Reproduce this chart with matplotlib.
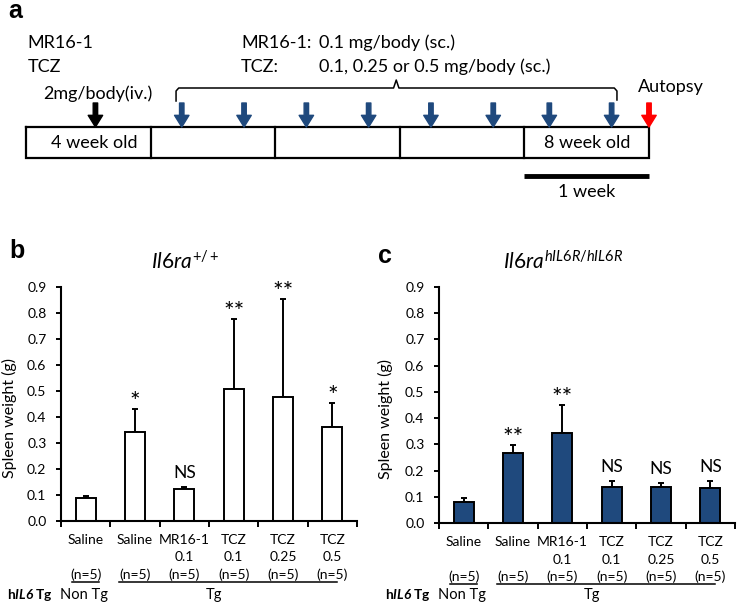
import numpy as np
import matplotlib
matplotlib.use("Agg")
import matplotlib.pyplot as plt

plt.rcParams['font.family'] = ['Lato', 'DejaVu Sans']
plt.rcParams['mathtext.fontset'] = 'custom'
plt.rcParams['mathtext.rm'] = 'Lato'
plt.rcParams['mathtext.it'] = 'Lato:italic'
plt.rcParams['mathtext.bf'] = 'Lato:bold'
plt.rcParams['mathtext.bfit'] = 'Lato:italic:bold'

# groups on the x axis (same for both panels)
groups = ['Saline', 'Saline', 'MR16-1', 'TCZ', 'TCZ', 'TCZ']
doses = ['', '', '0.1', '0.1', '0.25', '0.5']
n_labels = ['(n=5)', '(n=5)', '(n=5)', '(n=5)', '(n=5)', '(n=5)']

# spleen weight (g), mean and SD -- panel b (Il6ra+/+)
wt_b = [0.088, 0.342, 0.124, 0.507, 0.478, 0.362]
sd_b = [0.009, 0.088, 0.008, 0.270, 0.377, 0.092]
sig_b = ['', '*', 'NS', '**', '**', '*']

# panel c (Il6ra hIL6R/hIL6R)
wt_c = [0.081, 0.267, 0.344, 0.137, 0.137, 0.134]
sd_c = [0.014, 0.031, 0.106, 0.024, 0.016, 0.026]
sig_c = ['', '**', '**', 'NS', 'NS', 'NS']

# dosing schedule (days from 4 weeks old)
iv_day = 3.9
sc_days = [8.75, 12.25, 15.75, 19.25, 22.75, 26.25, 29.4, 32.9]
autopsy_day = 35
week_edges = [0, 7, 14, 21, 28, 35]

blue = '#1F497D'
W, H = 738, 607

fig = plt.figure(figsize=(W / 100, H / 100), dpi=100)

# ---------------- panel a: schedule ----------------
axa = fig.add_axes([26 / W, 1 - 200 / H, 623 / W, 200 / H])
axa.set_xlim(0, 35)
axa.set_ylim(200, 0)
axa.axis('off')

box_top, box_bot = 127, 158
axa.plot([week_edges[0], week_edges[-1], week_edges[-1], week_edges[0], week_edges[0]],
         [box_top, box_top, box_bot, box_bot, box_top], color='black', lw=1.6,
         clip_on=False, solid_joinstyle='miter')
for d in week_edges[1:-1]:
    axa.plot([d, d], [box_top, box_bot], color='black', lw=1.6, clip_on=False)
axa.text(3.85, 142.5, '4 week old', ha='center', va='center', fontsize=13)
axa.text(31.5, 142.5, '8 week old', ha='center', va='center', fontsize=13)

arrow_style = 'simple,head_length=0.42,head_width=0.52,tail_width=0.16'


def dose_arrow(day, color):
    axa.annotate('', xy=(day, box_top), xytext=(day, 103),
                 arrowprops=dict(arrowstyle=arrow_style, color=color,
                                 mutation_scale=20, shrinkA=0, shrinkB=0),
                 annotation_clip=False)


dose_arrow(iv_day, 'black')
for d in sc_days:
    dose_arrow(d, blue)
dose_arrow(autopsy_day, '#FF0000')

# brace over the sc doses
b0, b1 = 8.43, 33.2
bm = 20.8
axa.plot([b0, b0, b0 + 0.15, bm - 0.15, bm, bm + 0.15, b1 - 0.15, b1, b1],
         [101, 91, 88, 88, 80, 88, 88, 91, 100], color='black', lw=1.1, clip_on=False)

# 1 week scale bar
axa.plot([28, 35], [176, 176], color='black', lw=3.5, solid_capstyle='butt', clip_on=False)
axa.text(31.5, 192, '1 week', ha='center', va='center', fontsize=13)

axa.text(0.1, 43, 'MR16-1', ha='left', va='center', fontsize=13)
axa.text(0.1, 67, 'TCZ', ha='left', va='center', fontsize=13)
axa.text(0.95, 94, '2mg/body(iv.)', ha='left', va='center', fontsize=13)
axa.text(12.08, 43, 'MR16-1:', ha='left', va='center', fontsize=13)
axa.text(16.46, 43, '0.1 mg/body (sc.)', ha='left', va='center', fontsize=13)
axa.text(12.08, 67, 'TCZ:', ha='left', va='center', fontsize=13)
axa.text(16.46, 67, '0.1, 0.25 or 0.5 mg/body (sc.)', ha='left', va='center', fontsize=13)
axa.text(34.4, 87, 'Autopsy', ha='left', va='center', fontsize=13)

fig.text(15 / W, 1 - 11 / H, 'a', ha='center', va='center', fontsize=18,
         fontweight='bold', family='Liberation Sans')
fig.text(17 / W, 1 - 251 / H, 'b', ha='center', va='center', fontsize=18,
         fontweight='bold', family='Liberation Sans')
fig.text(385 / W, 1 - 256 / H, 'c', ha='center', va='center', fontsize=18,
         fontweight='bold', family='Liberation Sans')


# ---------------- panels b, c: bar charts ----------------
def bar_panel(rect, wt, sd, sig, face, title, label_x, row_y):
    ax = fig.add_axes(rect)
    x = np.arange(len(wt)) + 0.5
    ax.bar(x, wt, width=0.41, color=face, edgecolor='black', linewidth=1.4, zorder=2)
    ax.errorbar(x, wt, yerr=[np.zeros(len(sd)), sd], fmt='none', ecolor='black',
                elinewidth=1.4, capsize=2.5, capthick=1.4, zorder=1)
    ax.set_xlim(0, len(wt))
    ax.set_ylim(0, 0.9)
    ax.set_yticks(np.arange(0, 0.91, 0.1))
    ax.set_yticklabels(['%.1f' % v for v in np.arange(0, 0.91, 0.1)])
    ax.set_xticks(np.arange(0, len(wt) + 1))
    ax.set_xticklabels([])
    ax.tick_params(axis='y', direction='out', length=3.5, width=1.4, labelsize=10, pad=7)
    ax.tick_params(axis='x', direction='out', length=4, width=1.4)
    for s in ['top', 'right']:
        ax.spines[s].set_visible(False)
    for s in ['left', 'bottom']:
        ax.spines[s].set_linewidth(1.5)
    ax.set_ylabel('Spleen weight (g)', fontsize=11.5)
    ax.yaxis.set_label_coords(label_x, 0.44)

    for xi, m, e, s in zip(x, wt, sd, sig):
        if s == 'NS':
            ax.text(xi, m + e + 0.054, s, ha='center', va='center', fontsize=12.5)
        elif s:
            ax.text(xi, m + e + 0.025, s, ha='center', va='center', fontsize=18)

    tr = ax.get_xaxis_transform()
    for xi, g, d, n in zip(x, groups, doses, n_labels):
        ax.text(xi, -0.082, g, transform=tr, ha='center', va='center', fontsize=10)
        ax.text(xi, -0.155, d, transform=tr, ha='center', va='center', fontsize=10)
        ax.text(xi, -0.228, n, transform=tr, ha='center', va='center', fontsize=10)
    ax.plot([0.22, 0.78], [-0.26, -0.26], transform=tr, color='black', lw=1.1, clip_on=False)
    ax.plot([1.18, 5.6], [-0.26, -0.26], transform=tr, color='black', lw=1.1, clip_on=False)
    ax.text(-1.09, row_y, r'h$\mathbfit{IL6}$ Tg', transform=tr, ha='left', va='center',
            fontsize=9.8, fontweight='bold')
    ax.text(0.46, row_y, 'Non Tg', transform=tr, ha='center', va='center', fontsize=10.5)
    ax.text(3.1, row_y, 'Tg', transform=tr, ha='center', va='center', fontsize=10.5)

    ax.text(0.42, 1.107, title, transform=ax.transAxes, ha='center', va='center', fontsize=15)
    return ax


bar_panel([61 / W, 1 - 521 / H, 296 / W, 234 / H], wt_b, sd_b, sig_b, 'white',
          r'$\mathit{Il6ra}^{\mathit{+/+}}$', -0.15, -0.316)
bar_panel([439 / W, 1 - 523 / H, 296 / W, 236 / H], wt_c, sd_c, sig_c, blue,
          r'$\mathit{Il6ra}^{\mathit{hIL6R/hIL6R}}$', -0.155, -0.305)

fig.savefig('out.png', dpi=100)
